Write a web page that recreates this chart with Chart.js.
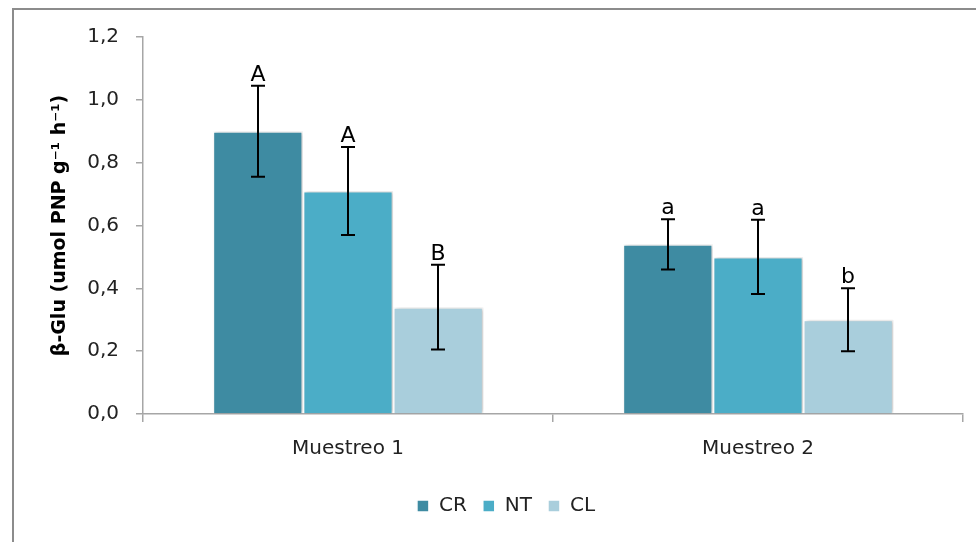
<!DOCTYPE html>
<html>
<head>
<meta charset="utf-8">
<script src="https://cdn.jsdelivr.net/npm/chart.js@4/dist/chart.umd.min.js"></script>
<style>
  html, body { margin: 0; padding: 0; background: #fff; }
  body { width: 976px; height: 542px; position: relative; overflow: hidden; }
  #frame { position: absolute; left: 12px; top: 8px; right: -4px; bottom: -4px; border: 2px solid #8c8c8c; box-sizing: border-box; }
  #wrap { position: absolute; left: 0; top: 0; width: 976px; height: 542px; }
</style>
</head>
<body>
<div id="frame"></div>
<div id="wrap"><canvas id="c" width="976" height="542"></canvas></div>
<script>
const categories = ['Muestreo 1', 'Muestreo 2'];
const seriesNames = ['CR', 'NT', 'CL'];
const crValues = [0.90, 0.54];
const ntValues = [0.71, 0.50];
const clValues = [0.34, 0.30];
const crErrors = [0.145, 0.080];
const ntErrors = [0.140, 0.118];
const clErrors = [0.135, 0.100];
const crLetters = ['A', 'a'];
const ntLetters = ['A', 'a'];
const clLetters = ['B', 'b'];
const yTicks = [0, 0.2, 0.4, 0.6, 0.8, 1.0, 1.2];

const colors = ['#3e8ba2', '#4badc7', '#a9cedc'];
const FONT = '"DejaVu Sans", sans-serif';

const datasets = [
  { label: seriesNames[0], data: crValues, errors: crErrors, letters: crLetters, backgroundColor: colors[0] },
  { label: seriesNames[1], data: ntValues, errors: ntErrors, letters: ntLetters, backgroundColor: colors[1] },
  { label: seriesNames[2], data: clValues, errors: clErrors, letters: clLetters, backgroundColor: colors[2] }
].map(d => Object.assign(d, { borderColor: '#ffffff', borderWidth: 1.5, categoryPercentage: 0.66, barPercentage: 1.0 }));

// soft drop shadow behind the bars
const barShadowPlugin = {
  id: 'barShadow',
  beforeDatasetDraw(chart) {
    const ctx = chart.ctx;
    ctx.save();
    ctx.shadowColor = 'rgba(0,0,0,0.22)';
    ctx.shadowBlur = 4;
    ctx.shadowOffsetX = 2;
    ctx.shadowOffsetY = 0;
  },
  afterDatasetDraw(chart) {
    chart.ctx.restore();
  }
};

// error bars with caps, plus significance letters above each cap
const errorBarPlugin = {
  id: 'errorBars',
  afterDatasetsDraw(chart) {
    const ctx = chart.ctx;
    const y = chart.scales.y;
    ctx.save();
    chart.data.datasets.forEach((ds, di) => {
      const meta = chart.getDatasetMeta(di);
      meta.data.forEach((bar, i) => {
        const v = ds.data[i], e = ds.errors[i];
        const x = Math.round(bar.x);
        const top = y.getPixelForValue(v + e);
        const bot = y.getPixelForValue(v - e);
        ctx.strokeStyle = '#000';
        ctx.lineWidth = 2;
        ctx.beginPath();
        ctx.moveTo(x, top); ctx.lineTo(x, bot);
        ctx.moveTo(x - 7, top); ctx.lineTo(x + 7, top);
        ctx.moveTo(x - 7, bot); ctx.lineTo(x + 7, bot);
        ctx.stroke();
        ctx.fillStyle = '#000';
        ctx.font = '22px ' + FONT;
        ctx.textAlign = 'center';
        ctx.textBaseline = 'alphabetic';
        ctx.fillText(ds.letters[i], x, top - 5);
      });
    });
    ctx.restore();
  }
};

new Chart(document.getElementById('c'), {
  type: 'bar',
  data: { labels: categories, datasets },
  options: {
    responsive: false,
    animation: false,
    layout: { padding: { left: 49, right: 13, top: 37, bottom: 16 } },
    plugins: {
      legend: {
        position: 'bottom',
        labels: { font: { family: FONT, size: 20 }, color: '#222', boxWidth: 12, boxHeight: 12, padding: 16 }
      },
      tooltip: { enabled: false }
    },
    scales: {
      x: {
        grid: { display: true, drawOnChartArea: false, offset: true, tickLength: 8, color: '#a6a6a6', lineWidth: 1.5 },
        border: { color: '#a6a6a6', width: 1.5 },
        ticks: { font: { family: FONT, size: 20 }, color: '#222', padding: 15 },
        afterFit(s) { s.height = 66; }
      },
      y: {
        min: 0, max: 1.2,
        afterBuildTicks(s) { s.ticks = yTicks.map(v => ({ value: v })); },
        grid: { display: true, drawOnChartArea: false, tickLength: 7, color: '#a6a6a6', lineWidth: 1.5 },
        border: { color: '#a6a6a6', width: 1.5 },
        ticks: {
          font: { family: FONT, size: 20 }, color: '#222', padding: 17,
          callback: v => v.toFixed(1).replace('.', ',')
        },
        title: {
          display: true,
          text: 'β-Glu (umol PNP g⁻¹ h⁻¹)',
          font: { family: FONT, size: 19, weight: 'bold' },
          color: '#000',
          padding: { top: 0, bottom: 0 }
        },
        afterFit(s) { s.width = 143 - 49; }
      }
    }
  },
  plugins: [barShadowPlugin, errorBarPlugin]
});
</script>
</body>
</html>
